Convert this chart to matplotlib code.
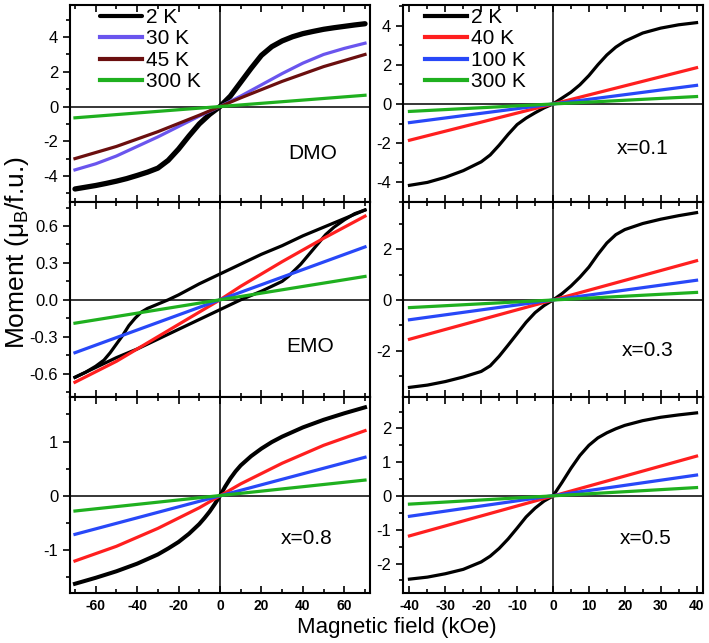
import numpy as np
import matplotlib
matplotlib.use('Agg')
import matplotlib.pyplot as plt
from matplotlib.ticker import MultipleLocator, FormatStrFormatter

plt.rcParams['font.family'] = ['Liberation Sans', 'DejaVu Sans']
plt.rcParams['mathtext.fontset'] = 'custom'
plt.rcParams['mathtext.rm'] = 'Liberation Sans'
plt.rcParams['mathtext.it'] = 'Liberation Sans'
plt.rcParams['axes.unicode_minus'] = False

# colours
BLACK = '#000000'
RED = '#ff1f1f'
BLUE = '#2848f8'
GREEN = '#1fb01f'
PURPLE = '#6a55ee'
DRED = '#6b0f0f'

# ---- DMO (left, top) ----
dmo_x = [-70, -65, -60, -55, -50, -45, -40, -35, -30, -25, -20, -15, -10, -5, 0,
         5, 10, 15, 20, 25, 30, 35, 40, 45, 50, 55, 60, 65, 70]
dmo_2k = [-4.75, -4.65, -4.55, -4.43, -4.3, -4.15, -3.97, -3.78, -3.55, -3.1, -2.45, -1.7, -1.0, -0.45, 0,
          0.6, 1.4, 2.2, 2.95, 3.45, 3.78, 4.02, 4.2, 4.33, 4.45, 4.54, 4.62, 4.7, 4.77]
dmo_30x = [-70, -60, -50, -40, -30, -20, -10, 0, 10, 20, 30, 40, 50, 60, 70]
dmo_30k = [-3.65, -3.3, -2.85, -2.3, -1.75, -1.15, -0.55, 0, 0.6, 1.25, 1.9, 2.5, 3.0, 3.35, 3.65]
dmo_45x = [-70, -50, -30, -10, 0, 10, 30, 50, 70]
dmo_45k = [-3.0, -2.3, -1.45, -0.5, 0, 0.5, 1.45, 2.3, 3.0]
dmo_300x = [-70, 70]
dmo_300k = [-0.65, 0.65]

# ---- EMO (left, middle) ----
emo_dn_x = [70, 60, 50, 40, 30, 20, 10, 0, -10, -20, -25, -30, -35, -38, -41, -44, -47,
            -50, -53, -56, -60, -65, -70]
emo_dn_y = [0.73, 0.66, 0.59, 0.52, 0.44, 0.37, 0.29, 0.21, 0.13, 0.04, 0.0, -0.035, -0.07, -0.1,
            -0.15, -0.21, -0.29, -0.36, -0.43, -0.49, -0.54, -0.59, -0.63]
emo_up_x = [-70, -60, -50, -40, -30, -20, -10, 0, 10, 20, 25, 30, 33, 36, 39, 42, 45, 48,
            51, 55, 60, 65, 70]
emo_up_y = [-0.63, -0.55, -0.47, -0.40, -0.32, -0.24, -0.16, -0.08, 0.0, 0.07, 0.11, 0.15, 0.19,
            0.24, 0.29, 0.35, 0.41, 0.47, 0.53, 0.59, 0.65, 0.70, 0.73]
emo_lin_x = [-70, -50, -30, -10, 0, 10, 30, 50, 70]
emo_40k = [-0.67, -0.5, -0.3, -0.1, 0, 0.11, 0.31, 0.5, 0.68]
emo_100x = [-70, 70]
emo_100k = [-0.43, 0.43]
emo_300k = [-0.19, 0.19]

# ---- x=0.8 (left, bottom) ----
x08_x = [-70, -60, -50, -40, -30, -25, -20, -15, -10, -7.5, -5, -2.5, 0,
         2.5, 5, 7.5, 10, 15, 20, 25, 30, 40, 50, 60, 70]
x08_2k = [-1.62, -1.51, -1.39, -1.25, -1.08, -0.97, -0.85, -0.7, -0.52, -0.41, -0.29, -0.15, 0,
          0.17, 0.32, 0.45, 0.56, 0.73, 0.87, 0.99, 1.09, 1.26, 1.4, 1.52, 1.63]
x08_lx = [-70, -50, -30, -10, 0, 10, 30, 50, 70]
x08_40k = [-1.2, -0.93, -0.6, -0.22, 0, 0.22, 0.6, 0.93, 1.2]
x08_ex = [-70, 70]
x08_100k = [-0.71, 0.71]
x08_300k = [-0.28, 0.29]

# ---- right column field values ----
r_x = [-40, -35, -30, -25, -20, -17.5, -15, -12.5, -10, -7.5, -5, -2.5, 0,
       2.5, 5, 7.5, 10, 12.5, 15, 17.5, 20, 25, 30, 35, 40]
r_ex = [-40, 40]

# ---- x=0.1 (right, top) ----
x01_2k = [-4.15, -4.0, -3.74, -3.4, -2.95, -2.6, -2.1, -1.55, -1.05, -0.72, -0.45, -0.2, 0,
          0.3, 0.6, 0.98, 1.45, 2.0, 2.5, 2.9, 3.2, 3.62, 3.87, 4.04, 4.15]
x01_40k = [-1.85, 1.85]
x01_100k = [-0.95, 0.95]
x01_300k = [-0.38, 0.38]

# ---- x=0.3 (right, middle) ----
x03_2k = [-3.45, -3.36, -3.22, -3.04, -2.82, -2.6, -2.22, -1.78, -1.33, -0.88, -0.5, -0.22, 0,
          0.25, 0.55, 0.9, 1.3, 1.8, 2.25, 2.58, 2.78, 3.02, 3.19, 3.33, 3.45]
x03_40k = [-1.55, 1.55]
x03_100k = [-0.78, 0.78]
x03_300k = [-0.3, 0.3]

# ---- x=0.5 (right, bottom) ----
x05_2k = [-2.46, -2.4, -2.3, -2.17, -1.95, -1.78, -1.55, -1.27, -0.95, -0.62, -0.36, -0.15, 0,
          0.4, 0.82, 1.2, 1.5, 1.72, 1.87, 1.99, 2.09, 2.23, 2.33, 2.4, 2.46]
x05_40k = [-1.18, 1.18]
x05_100k = [-0.6, 0.62]
x05_300k = [-0.24, 0.25]

W, H = 709, 643
fig = plt.figure(figsize=(W / 100, H / 100), dpi=100)

colx = [70 / W, 403 / W]
colw = 300 / W
rows = [(5, 202), (202, 397), (397, 593)]


def make_ax(col, row):
    top, bot = rows[row]
    return fig.add_axes([colx[col], 1 - bot / H, colw, (bot - top) / H])


def style(ax, left, ylim, ymaj, ymin, bottom_labels):
    if left:
        ax.set_xlim(-72.4, 72.4)
        ax.xaxis.set_major_locator(MultipleLocator(20))
        ax.xaxis.set_minor_locator(MultipleLocator(10))
    else:
        ax.set_xlim(-41.8, 41.8)
        ax.xaxis.set_major_locator(MultipleLocator(10))
        ax.xaxis.set_minor_locator(MultipleLocator(5))
    ax.set_ylim(*ylim)
    ax.yaxis.set_major_locator(MultipleLocator(ymaj))
    ax.yaxis.set_minor_locator(MultipleLocator(ymin))
    ax.tick_params(axis='x', which='both', direction='in', top=True, bottom=True,
                   labelbottom=bottom_labels)
    ax.tick_params(axis='x', which='major', length=5, width=1.2, labelsize=10, pad=4)
    ax.tick_params(axis='x', which='minor', length=3, width=1.2)
    ax.tick_params(axis='y', which='both', direction='out', right=False)
    ax.tick_params(axis='y', which='major', length=5, width=1.2, labelsize=12)
    ax.tick_params(axis='y', which='minor', length=3, width=1.2)
    for lab in ax.get_xticklabels():
        lab.set_fontweight('bold')
    for s in ax.spines.values():
        s.set_linewidth(1.5)
    ax.axhline(0, color='black', lw=1.1, zorder=1)
    ax.axvline(0, color='black', lw=1.1, zorder=1)


def legend(ax, x0):
    leg = ax.legend(loc='upper left', frameon=False, fontsize=15, handlelength=2.0,
                    handletextpad=0.2, labelspacing=0.12, borderpad=0, borderaxespad=0,
                    bbox_to_anchor=(x0, 0.985))
    for h in leg.get_lines():
        h.set_linewidth(3)


lw = 2.3

# DMO
ax = make_ax(0, 0)
ax.plot(dmo_x, dmo_2k, color=BLACK, lw=3.8, label='2 K', solid_capstyle='round')
ax.plot(dmo_30x, dmo_30k, color=PURPLE, lw=lw, label='30 K')
ax.plot(dmo_45x, dmo_45k, color=DRED, lw=lw, label='45 K')
ax.plot(dmo_300x, dmo_300k, color=GREEN, lw=lw, label='300 K')
style(ax, True, (-5.5, 5.85), 2, 1, False)
ax.text(0.81, 0.245, 'DMO', transform=ax.transAxes, fontsize=15, ha='center', va='center')
legend(ax, 0.1)

# EMO
ax = make_ax(0, 1)
ax.plot(emo_dn_x, emo_dn_y, color=BLACK, lw=lw)
ax.plot(emo_up_x, emo_up_y, color=BLACK, lw=lw)
ax.plot(emo_lin_x, emo_40k, color=RED, lw=lw)
ax.plot(emo_100x, emo_100k, color=BLUE, lw=lw)
ax.plot(emo_100x, emo_300k, color=GREEN, lw=lw)
style(ax, True, (-0.79, 0.795), 0.3, 0.15, False)
ax.yaxis.set_major_formatter(FormatStrFormatter('%.1f'))
ax.text(0.80, 0.26, 'EMO', transform=ax.transAxes, fontsize=15, ha='center', va='center')

# x=0.8
ax = make_ax(0, 2)
ax.plot(x08_x, x08_2k, color=BLACK, lw=lw + 0.6)
ax.plot(x08_lx, x08_40k, color=RED, lw=lw)
ax.plot(x08_ex, x08_100k, color=BLUE, lw=lw)
ax.plot(x08_ex, x08_300k, color=GREEN, lw=lw)
style(ax, True, (-1.79, 1.82), 1, 0.5, True)
ax.text(0.79, 0.28, 'x=0.8', transform=ax.transAxes, fontsize=15, ha='center', va='center')

# x=0.1
ax = make_ax(1, 0)
ax.plot(r_x, x01_2k, color=BLACK, lw=lw, label='2 K')
ax.plot(r_ex, x01_40k, color=RED, lw=lw, label='40 K')
ax.plot(r_ex, x01_100k, color=BLUE, lw=lw, label='100 K')
ax.plot(r_ex, x01_300k, color=GREEN, lw=lw, label='300 K')
style(ax, False, (-5.0, 5.05), 2, 1, False)
ax.text(0.80, 0.27, 'x=0.1', transform=ax.transAxes, fontsize=15, ha='center', va='center')
legend(ax, 0.073)

# x=0.3
ax = make_ax(1, 1)
ax.plot(r_x, x03_2k, color=BLACK, lw=lw)
ax.plot(r_ex, x03_40k, color=RED, lw=lw)
ax.plot(r_ex, x03_100k, color=BLUE, lw=lw)
ax.plot(r_ex, x03_300k, color=GREEN, lw=lw)
style(ax, False, (-3.83, 3.87), 2, 1, False)
ax.text(0.815, 0.24, 'x=0.3', transform=ax.transAxes, fontsize=15, ha='center', va='center')

# x=0.5
ax = make_ax(1, 2)
ax.plot(r_x, x05_2k, color=BLACK, lw=lw)
ax.plot(r_ex, x05_40k, color=RED, lw=lw)
ax.plot(r_ex, x05_100k, color=BLUE, lw=lw)
ax.plot(r_ex, x05_300k, color=GREEN, lw=lw)
style(ax, False, (-2.87, 2.93), 1, 0.5, True)
ax.text(0.81, 0.28, 'x=0.5', transform=ax.transAxes, fontsize=15, ha='center', va='center')

fig.text(0.024, 1 - 253 / H, r'Moment ($\mu_\mathrm{B}$/f.u.)', rotation=90,
         fontsize=19, ha='center', va='center')
fig.text(397 / W, 1 - 628 / H, 'Magnetic field (kOe)', fontsize=16, ha='center', va='center')

fig.savefig('out.png', dpi=100)
